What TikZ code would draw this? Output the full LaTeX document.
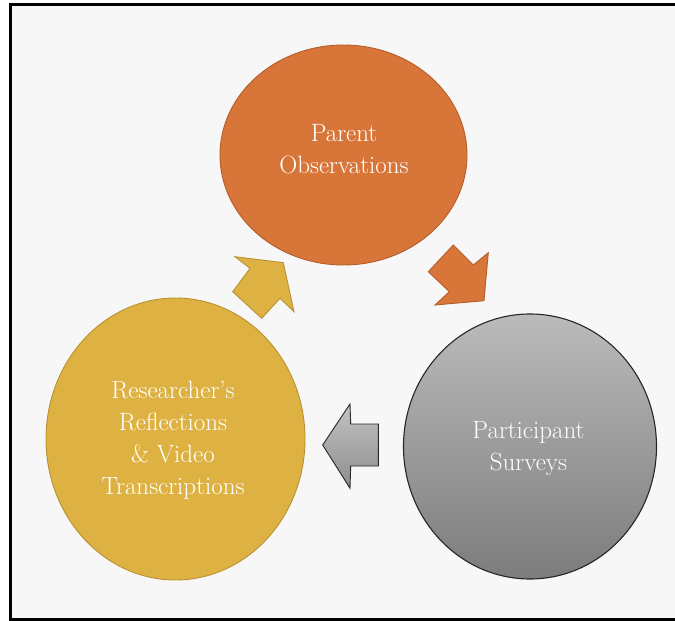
\documentclass[tikz,border=0pt]{standalone}
\usepackage{fontspec}
\usetikzlibrary{shapes.geometric}

\definecolor{paper}{HTML}{F7F7F7}
\definecolor{obsfill}{HTML}{D8763A}
\definecolor{obsline}{HTML}{B35E2A}
\definecolor{reffill}{HTML}{DEB242}
\definecolor{refline}{HTML}{B89232}
\definecolor{surtop}{HTML}{BBBBBB}
\definecolor{surbottom}{HTML}{7C7C7C}
\definecolor{surline}{HTML}{262626}
\definecolor{cuetop}{HTML}{C4C4C4}
\definecolor{cuebottom}{HTML}{8C8C8C}

\tikzset{
  stage/.style={ellipse, inner sep=0pt, line width=0.9pt},
  stagetext/.style={text=white, align=center, inner sep=0pt,
    font=\fontsize{25}{32}\selectfont},
  cue/.style={line width=0.9pt, line join=miter},
}

\begin{document}
\begin{tikzpicture}[x=1pt, y=-1pt]
  \useasboundingbox (0,0) rectangle (675,621);
  \fill[white] (0,0) rectangle (675,621);
  % panel with its black frame (open on the right)
  \fill[paper] (10.5,4.5) rectangle (675,619.5);
  \draw[line width=3pt] (675,4.5) -- (10.5,4.5) -- (10.5,619.5) -- (675,619.5);

  % the three stages of the cycle
  \node[stage, fill=obsfill, draw=obsline, minimum width=247pt, minimum height=220pt]
    (obs) at (343.5,155) {};
  \node[stage, top color=surtop, bottom color=surbottom, draw=surline,
    line width=1.1pt, minimum width=253pt, minimum height=265pt] (sur) at (530,446.5) {};
  \node[stage, fill=reffill, draw=refline, minimum width=259pt, minimum height=282pt]
    (ref) at (175.5,439) {};

  \node[stagetext] (obstext) at (344,149.5) {Parent\\Observations};
  \node[stagetext] (surtext) at (528.5,448) {Participant\\Surveys};
  \node[stagetext] (reftext) at (173,440.5)
    {Researcher’s\\Reflections\\\& Video\\Transcriptions};

  % block arrows between the stages
  \filldraw[cue, fill=obsfill, draw=obsline]
    (453.3,245) -- (473.3,265) -- (488.3,252.7) -- (484,300.7)
    -- (435,305) -- (449.3,291.7) -- (428.3,271.7) -- cycle;
  \shade[cue, top color=cuetop, bottom color=cuebottom, draw=surline]
    (322.7,445) -- (350,404) -- (350.7,424) -- (378.3,424)
    -- (378.3,466) -- (350.7,466) -- (350,488.3) -- cycle;
  \filldraw[cue, fill=reffill, draw=refline]
    (235,256.7) -- (283.3,262.7) -- (294,311.7) -- (280,298.3)
    -- (261.7,318.3) -- (232.7,291.7) -- (250,268.3) -- cycle;
\end{tikzpicture}
\end{document}
